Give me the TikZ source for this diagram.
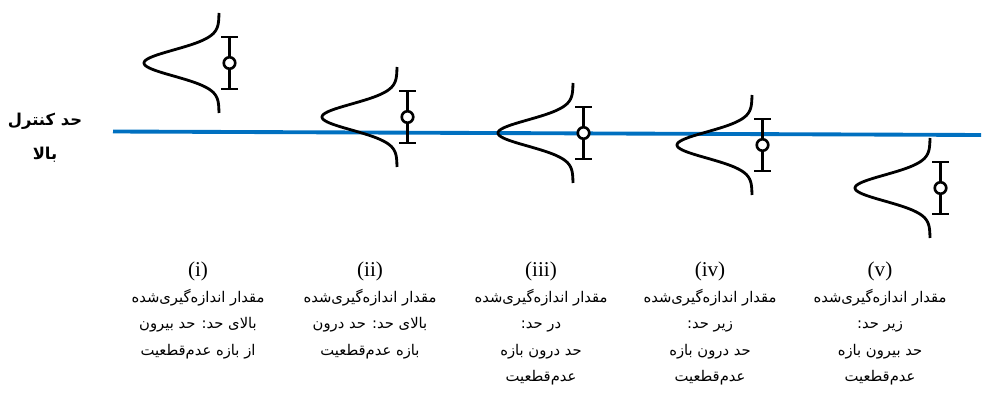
\documentclass[tikz,border=0pt]{standalone}
\usepackage{fontspec}
\newfontfamily\arabicfont[Script=Arabic]{DejaVu Sans}
\newfontfamily\numfont{Liberation Serif}
\TeXXeTstate=1
\definecolor{ctrlblue}{RGB}{0,112,192}
\tikzset{
 ar/.style={font=\arabicfont\fontsize{8.4}{12}\selectfont, inner sep=0pt, anchor=base},
 arb/.style={font=\arabicfont\bfseries\fontsize{9.3}{12}\selectfont, inner sep=0pt},
 num/.style={font=\numfont\fontsize{12}{14}\selectfont, inner sep=0pt, anchor=base},
 curve/.style={line width=1.6pt, black},
 bar/.style={line width=1.5pt, black},
 limit/.style={line width=2.2pt, color=ctrlblue},
 pics/gauss/.style={code={
   \draw[curve] plot[domain=-50:50,samples=101,smooth] ({-75*exp(-(\x*\x)/338)},\x);
   \draw[bar] (10.5,-26)--(10.5,26) (2,-26)--(19,-26) (2,26)--(19,26);
   \draw[bar, fill=white] (10.5,0) circle[radius=0.115cm];
 }}
}
\newcommand{\rtl}[1]{\beginR #1\endR}
\begin{document}
\begin{tikzpicture}[x=0.02cm,y=-0.02cm]
\useasboundingbox (0,0) rectangle (989,398);
% control limit
\coordinate (limA) at (113,131.5);
\coordinate (limB) at (981,135);
\draw[limit] (limA) -- (limB);
\node[arb] (lim1) at (45,121) {\rtl{حد کنترل}};
\node[arb] (lim2) at (45,155) {\rtl{بالا}};
% distributions
\pic at (219,63) {gauss};
\pic at (397,117) {gauss};
\pic at (573,133) {gauss};
\pic at (752,145) {gauss};
\pic at (930,188) {gauss};
% labels
\node[num] (n1) at (198,276) {(i)};
\node[ar] (a1) at (198,302) {\rtl{مقدار اندازه‌گیری‌شده}};
\node[ar] (b1) at (198,328.5) {\rtl{بالای حد: حد بیرون}};
\node[ar] (c1) at (198,355) {\rtl{از بازه عدم‌قطعیت}};

\node[num] (n2) at (370,276) {(ii)};
\node[ar] (a2) at (370,302) {\rtl{مقدار اندازه‌گیری‌شده}};
\node[ar] (b2) at (370,328.5) {\rtl{بالای حد: حد درون}};
\node[ar] (c2) at (370,355) {\rtl{بازه عدم‌قطعیت}};

\node[num] (n3) at (541,276) {(iii)};
\node[ar] (a3) at (541,302) {\rtl{مقدار اندازه‌گیری‌شده}};
\node[ar] (b3) at (541,328.5) {\rtl{در حد:}};
\node[ar] (c3) at (541,355) {\rtl{حد درون بازه}};
\node[ar] (d3) at (541,381.5) {\rtl{عدم‌قطعیت}};

\node[num] (n4) at (710,276) {(iv)};
\node[ar] (a4) at (710,302) {\rtl{مقدار اندازه‌گیری‌شده}};
\node[ar] (b4) at (710,328.5) {\rtl{زیر حد:}};
\node[ar] (c4) at (710,355) {\rtl{حد درون بازه}};
\node[ar] (d4) at (710,381.5) {\rtl{عدم‌قطعیت}};

\node[num] (n5) at (880,276) {(v)};
\node[ar] (a5) at (880,302) {\rtl{مقدار اندازه‌گیری‌شده}};
\node[ar] (b5) at (880,328.5) {\rtl{زیر حد:}};
\node[ar] (c5) at (880,355) {\rtl{حد بیرون بازه}};
\node[ar] (d5) at (880,381.5) {\rtl{عدم‌قطعیت}};
\end{tikzpicture}
\end{document}
